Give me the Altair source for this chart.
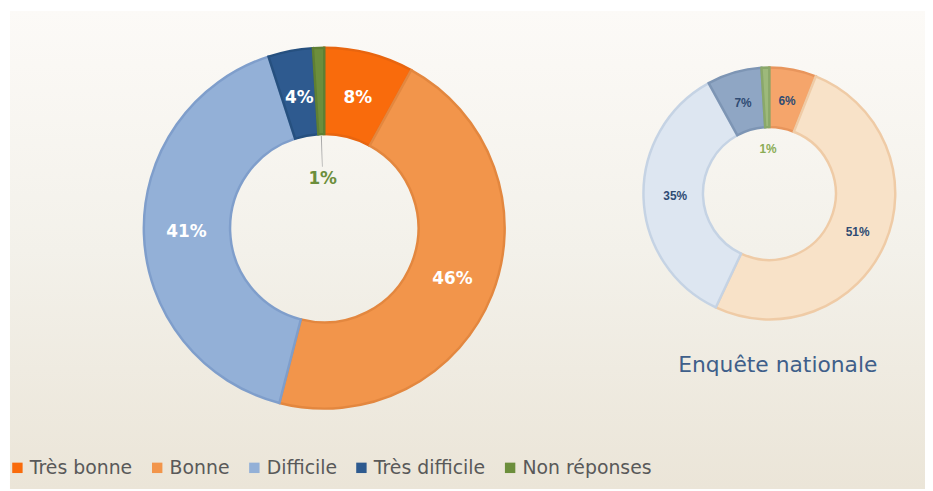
import math
import altair as alt
import pandas as pd

categories = ["Très bonne", "Bonne", "Difficile", "Très difficile", "Non réponses"]
local_values = [8, 46, 41, 4, 1]
national_values = [6, 51, 35, 7, 1]

legend_colors = ["#f96b0c", "#f2954b", "#93b0d7", "#2e5a8f", "#6c8e3c"]
local_stroke = ["#e8650f", "#e3873f", "#7f9ecb", "#26507f", "#5f7f33"]
local_label_colors = ["#ffffff", "#ffffff", "#ffffff", "#ffffff", "#6c8e3c"]
local_label_radius = [136, 139, 139, 134, 50]

national_fill = ["#f5a56b", "#f8e2c8", "#dde6f1", "#8fa6c4", "#9db97b"]
national_stroke = ["#e8955c", "#efcba6", "#c5d3e4", "#7d95b4", "#8aa86a"]
national_label_colors = ["#2f4b73", "#2f4b73", "#2f4b73", "#2f4b73", "#8aac55"]
national_label_radius = [95, 97, 95, 95, 45]

subtitle = "Enquête nationale"

W, H = 925, 483
BIG_C = (319, 220)
SMALL_C = (768, 185)


def frame(values):
    s = pd.Series(values, dtype=float)
    start = s.cumsum() - s
    return start, start + s, start + s / 2


ls, le, lm = frame(local_values)
ns, ne, nm = frame(national_values)

local = pd.DataFrame({
    "cat": categories, "value": local_values, "t1": ls, "t2": le, "tm": lm,
    "stroke": local_stroke, "lc": local_label_colors, "r": local_label_radius,
    "label": [f"{v}%" for v in local_values],
})
national = pd.DataFrame({
    "cat": categories, "value": national_values, "t1": ns, "t2": ne, "tm": nm,
    "fill": national_fill, "stroke": national_stroke,
    "lc": national_label_colors, "r": national_label_radius,
    "label": [f"{v}%" for v in national_values],
})

# leader line for the small "Non réponses" slice of the big donut
mid_nr = float(lm.iloc[4])
leader = pd.DataFrame({"t1": [mid_nr - 0.09], "t2": [mid_nr + 0.09]})

theta_scale = alt.Scale(domain=[0, 100], range=[0, 2 * math.pi])

bg = alt.Chart(pd.DataFrame({"a": [0]})).mark_rect(
    color=alt.Gradient(
        gradient="linear", x1=0, x2=0, y1=0, y2=1,
        stops=[alt.GradientStop(color="#fcfaf7", offset=0),
               alt.GradientStop(color="#f3f1ea", offset=0.5),
               alt.GradientStop(color="#ebe5d8", offset=1)],
    )
).encode(x=alt.value(2), x2=alt.value(W), y=alt.value(1), y2=alt.value(H))

big = alt.Chart(local).mark_arc(innerRadius=95, outerRadius=182, strokeWidth=2.5).encode(
    theta=alt.Theta("t1:Q", scale=theta_scale),
    theta2="t2:Q",
    color=alt.Color(
        "cat:N", sort=categories,
        scale=alt.Scale(domain=categories, range=legend_colors),
        legend=alt.Legend(
            orient="none", legendX=0, legendY=452, direction="horizontal",
            columns=5, title=None, symbolType="square", symbolSize=110,
            symbolStrokeWidth=0, labelFontSize=19, labelColor="#595959",
            labelFont="DejaVu Sans", columnPadding=15, labelOffset=3,
        ),
    ),
    stroke=alt.Stroke("stroke:N", scale=None),
    x=alt.value(BIG_C[0]), y=alt.value(BIG_C[1]),
)

big_text = alt.Chart(local).mark_text(fontSize=17, fontWeight="bold", font="DejaVu Sans").encode(
    theta=alt.Theta("tm:Q", scale=theta_scale),
    radius=alt.Radius("r:Q", scale=None),
    text="label:N",
    color=alt.Color("lc:N", scale=None),
    x=alt.value(BIG_C[0]), y=alt.value(BIG_C[1]),
)

leader_line = alt.Chart(leader).mark_arc(innerRadius=62, outerRadius=93, color="#a9a9a9").encode(
    theta=alt.Theta("t1:Q", scale=theta_scale),
    theta2="t2:Q",
    x=alt.value(BIG_C[0]), y=alt.value(BIG_C[1]),
)

small = alt.Chart(national).mark_arc(innerRadius=67, outerRadius=127, strokeWidth=2.5).encode(
    theta=alt.Theta("t1:Q", scale=theta_scale),
    theta2="t2:Q",
    fill=alt.Fill("fill:N", scale=None),
    stroke=alt.Stroke("stroke:N", scale=None),
    x=alt.value(SMALL_C[0]), y=alt.value(SMALL_C[1]),
)

small_text = alt.Chart(national).mark_text(fontSize=12, fontWeight="bold", font="Liberation Sans").encode(
    theta=alt.Theta("tm:Q", scale=theta_scale),
    radius=alt.Radius("r:Q", scale=None),
    text="label:N",
    color=alt.Color("lc:N", scale=None),
    x=alt.value(SMALL_C[0]), y=alt.value(SMALL_C[1]),
)

sub = alt.Chart(pd.DataFrame({"t": [subtitle]})).mark_text(
    fontSize=22, font="DejaVu Sans", color="#3f5f8a", align="left", baseline="alphabetic"
).encode(text="t:N", x=alt.value(676), y=alt.value(365))

chart = alt.layer(bg, big, leader_line, big_text, small, small_text, sub).properties(
    width=W, height=H, autosize=alt.AutoSizeParams(type="none"), padding=0,
    background="#ffffff",
).configure_view(stroke=None)

chart.save("out.html", embed_options={"renderer": "svg", "actions": False})
